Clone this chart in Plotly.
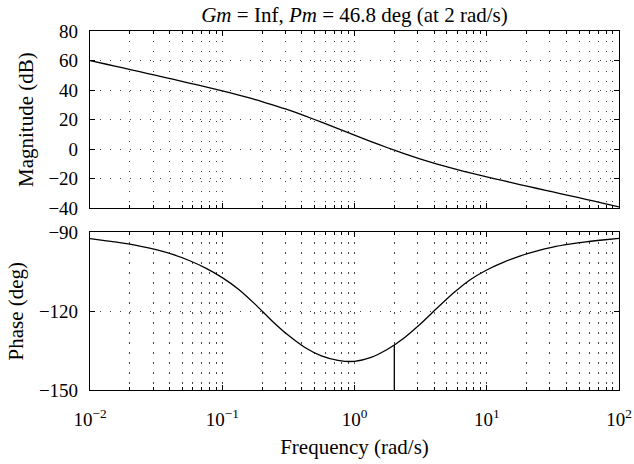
import plotly.graph_objects as go

# ---- data (1/8-decade steps) ----
freq = [0.01, 0.01334, 0.01778, 0.02371, 0.03162, 0.04217, 0.05623, 0.07499,
        0.1, 0.1334, 0.1778, 0.2371, 0.3162, 0.4217, 0.5623, 0.7499,
        1.0, 1.334, 1.778, 2.371, 3.162, 4.217, 5.623, 7.499,
        10.0, 13.34, 17.78, 23.71, 31.62, 42.17, 56.23, 74.99, 100.0]
mag_db = [60.0, 57.5, 55.0, 52.5, 49.9, 47.4, 44.8, 42.2,
          39.5, 36.6, 33.6, 30.2, 26.6, 22.6, 18.3, 13.9,
          9.5, 5.2, 1.0, -3.0, -6.7, -10.1, -13.2, -16.0,
          -18.7, -21.3, -23.9, -26.4, -28.9, -31.4, -33.9, -36.4, -39.0]
phase_deg = [-92.4, -93.2, -94.1, -95.2, -96.6, -98.4, -100.7, -103.6,
             -107.2, -111.7, -117.4, -123.6, -129.2, -133.8, -137.0, -138.7,
             -139.1, -137.6, -134.5, -130.2, -124.8, -118.8, -113.0, -108.0,
             -104.3, -101.4, -99.0, -97.1, -95.6, -94.5, -93.6, -92.9, -92.3]

crossover_freq = 2.0
crossover_phase = -132.9
phase_floor = -150

title_text = "<i>Gm</i> = Inf, <i>Pm</i> = 46.8 deg (at 2 rad/s)"
x_major = [0.01, 0.1, 1, 10, 100]
x_major_text = ["10<sup>\u22122</sup>", "10<sup>\u22121</sup>", "10<sup>0</sup>",
                "10<sup>1</sup>", "10<sup>2</sup>"]
mag_ticks = [-40, -20, 0, 20, 40, 60, 80]
mag_tick_text = ["\u221240", "\u221220", "0", "20", "40", "60", "80"]
ph_ticks = [-150, -120, -90]
ph_tick_text = ["\u2212150", "\u2212120", "\u221290"]

x_minor = [k * 10 ** e for e in range(-2, 2) for k in range(2, 10)]

FONT = "Liberation Serif"
FS_TICK = 19
FS_TITLE = 21
GRIDC = "#444"
DOT = "1.3px,8.7px"

fig = go.Figure()
fig.add_trace(go.Scatter(x=freq, y=mag_db, mode="lines",
                         line=dict(color="black", width=1.3, shape="spline", smoothing=0.6),
                         xaxis="x", yaxis="y", showlegend=False))
fig.add_trace(go.Scatter(x=freq, y=phase_deg, mode="lines",
                         line=dict(color="black", width=1.3, shape="spline", smoothing=0.6),
                         xaxis="x2", yaxis="y2", showlegend=False))
fig.add_trace(go.Scatter(x=[crossover_freq, crossover_freq], y=[phase_floor, crossover_phase], mode="lines",
                         line=dict(color="black", width=1.3), xaxis="x2", yaxis="y2", showlegend=False))

common_x = dict(type="log", range=[-2, 2], tickmode="array", tickvals=x_major,
                showline=True, linecolor="black", linewidth=1.2, mirror="allticks",
                ticks="inside", ticklen=5, tickcolor="black", automargin=False,
                showgrid=True, gridcolor=GRIDC, griddash=DOT, gridwidth=1,
                minor=dict(tickmode="array", tickvals=x_minor, ticks="inside", ticklen=3,
                           tickcolor="black", showgrid=True, gridcolor=GRIDC, griddash=DOT, gridwidth=1),
                zeroline=False, tickfont=dict(family=FONT, size=FS_TICK, color="black"))

common_y = dict(tickmode="array", showline=True, linecolor="black", linewidth=1.2,
                mirror="allticks", ticks="inside", ticklen=5, tickcolor="black",
                showgrid=True, gridcolor=GRIDC, griddash=DOT, gridwidth=1, zeroline=False,
                ticklabelstandoff=7, automargin=False,
                tickfont=dict(family=FONT, size=FS_TICK, color="black"))

fig.update_layout(
    width=634, height=464,
    margin=dict(l=90, r=15, t=31, b=74),
    paper_bgcolor="white", plot_bgcolor="white",
    font=dict(family=FONT, size=FS_TITLE, color="black"),
    title=dict(text=title_text, xref="paper", x=0.5, xanchor="center",
               yref="container", y=1 - 15 / 464, yanchor="middle",
               font=dict(family=FONT, size=FS_TITLE, color="black")),
    xaxis=dict(common_x, domain=[0, 1], anchor="y", showticklabels=False),
    yaxis=dict(common_y, domain=[0.506, 1.0], range=[-40, 80], tickvals=mag_ticks,
               ticktext=mag_tick_text,
               title=dict(text="Magnitude (dB)", standoff=9, font=dict(family=FONT, size=FS_TITLE))),
    xaxis2=dict(common_x, domain=[0, 1], anchor="y2", ticktext=x_major_text, ticklabelstandoff=12,
                title=dict(text="Frequency (rad/s)", standoff=10, font=dict(family=FONT, size=FS_TITLE))),
    yaxis2=dict(common_y, domain=[0, 0.439], range=[-150, -90], tickvals=ph_ticks,
                ticktext=ph_tick_text,
                title=dict(text="Phase (deg)", standoff=9, font=dict(family=FONT, size=FS_TITLE))),
)

fig.write_html("out.html")
